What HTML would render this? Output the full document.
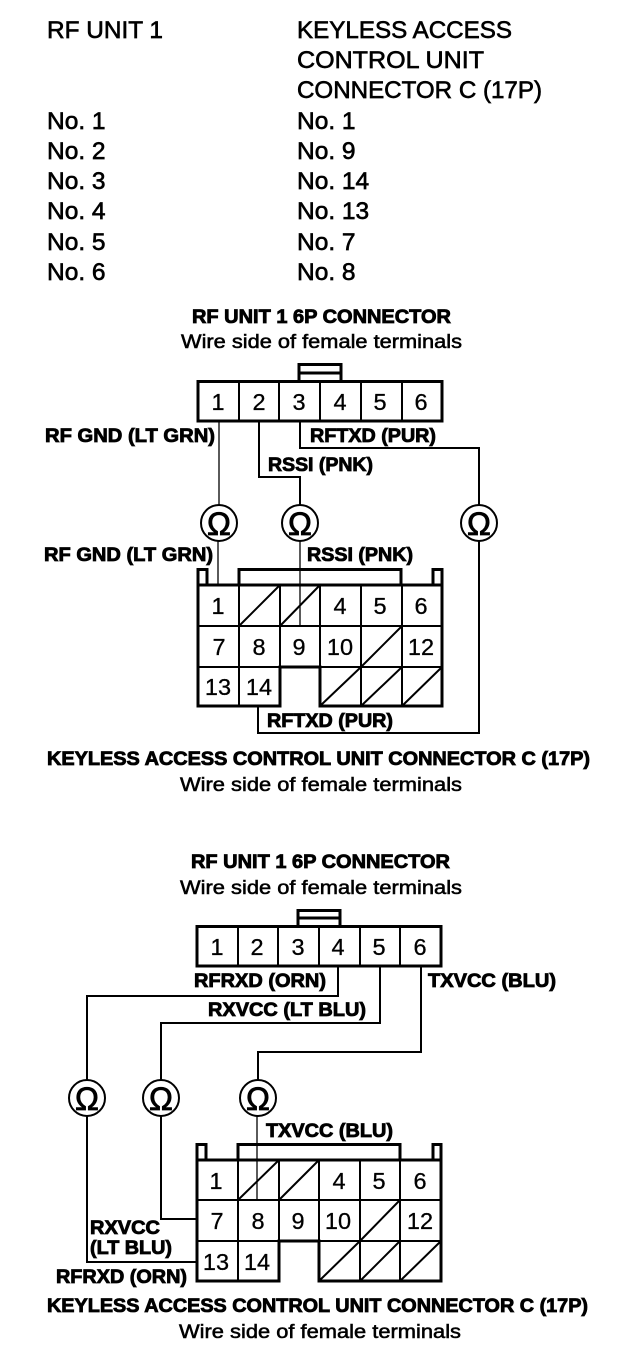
<!DOCTYPE html>
<html><head><meta charset="utf-8"><style>
html,body{margin:0;padding:0;background:#fff}
svg{display:block}
text{font-family:"Liberation Sans",sans-serif;fill:#000}
.h{font-size:24.5px;stroke:#000;stroke-width:.65px}
.b{font-size:19.5px;font-weight:bold;stroke:#000;stroke-width:.85px}
.r{font-size:19.5px;stroke:#000;stroke-width:.55px}
.n{font-size:23.5px;text-anchor:middle;stroke:#000;stroke-width:.3px}
.o{font-size:32px;text-anchor:middle;stroke:#000;stroke-width:.8px}
.l{fill:none;stroke:#000;stroke-width:3}
.m{fill:none;stroke:#000;stroke-width:2}
.t{fill:none;stroke:#000;stroke-width:1.3}
circle{fill:#fff;stroke:#000;stroke-width:2}
</style></head><body>
<svg width="640" height="1362" viewBox="0 0 640 1362" xmlns="http://www.w3.org/2000/svg">
<!-- Header table -->
<text class="h" x="47" y="38" textLength="116" lengthAdjust="spacingAndGlyphs">RF UNIT 1</text>
<text class="h" x="297" y="38" textLength="215" lengthAdjust="spacingAndGlyphs">KEYLESS ACCESS</text>
<text class="h" x="297" y="68" textLength="187" lengthAdjust="spacingAndGlyphs">CONTROL UNIT</text>
<text class="h" x="297" y="98" textLength="245" lengthAdjust="spacingAndGlyphs">CONNECTOR C (17P)</text>
<text class="h" x="47" y="129">No. 1</text><text class="h" x="297" y="129">No. 1</text>
<text class="h" x="47" y="159">No. 2</text><text class="h" x="297" y="159">No. 9</text>
<text class="h" x="47" y="189">No. 3</text><text class="h" x="297" y="189">No. 14</text>
<text class="h" x="47" y="219">No. 4</text><text class="h" x="297" y="219">No. 13</text>
<text class="h" x="47" y="250">No. 5</text><text class="h" x="297" y="250">No. 7</text>
<text class="h" x="47" y="280">No. 6</text><text class="h" x="297" y="280">No. 8</text>

<!-- Diagram 1 -->
<text class="b" x="192" y="323" textLength="259" lengthAdjust="spacingAndGlyphs">RF UNIT 1 6P CONNECTOR</text>
<text class="r" x="181" y="348" textLength="281" lengthAdjust="spacingAndGlyphs">Wire side of female terminals</text>

<path class="l" d="M299 381V364.500H341V381M299 373H341"/>
<path class="l" d="M198 381.500H442V421H198Z"/>
<path class="m" d="M239 381V421M279 381V421M320 381V421M361 381V421M402 381V421"/>
<text class="n" x="218" y="410">1</text><text class="n" x="259" y="410">2</text><text class="n" x="299" y="410">3</text><text class="n" x="340" y="410">4</text><text class="n" x="380" y="410">5</text><text class="n" x="421" y="410">6</text>

<path class="t" d="M219 421V505"/>
<path class="m" d="M259 421V477H300V505"/>
<path class="m" d="M300 421V448H479V505"/>
<path class="t" d="M218 541V585"/>
<path class="t" d="M300 541V626"/>
<path class="m" d="M479 541V733H258V706"/>

<text class="b" x="45" y="442" textLength="170" lengthAdjust="spacingAndGlyphs">RF GND (LT GRN)</text>
<text class="b" x="310" y="442" textLength="126" lengthAdjust="spacingAndGlyphs">RFTXD (PUR)</text>
<text class="b" x="268" y="471" textLength="105" lengthAdjust="spacingAndGlyphs">RSSI (PNK)</text>
<text class="b" x="44" y="561" textLength="169" lengthAdjust="spacingAndGlyphs">RF GND (LT GRN)</text>
<text class="b" x="307" y="561" textLength="106" lengthAdjust="spacingAndGlyphs">RSSI (PNK)</text>
<text class="b" x="267" y="727" textLength="126" lengthAdjust="spacingAndGlyphs">RFTXD (PUR)</text>

<circle cx="219" cy="523" r="18"/><text class="o" x="219" y="535">Ω</text>
<circle cx="300" cy="523" r="18"/><text class="o" x="300" y="535">Ω</text>
<circle cx="479" cy="523" r="18"/><text class="o" x="479" y="535">Ω</text>

<path class="l" d="M198 585V569.500H207V585M239 585V569.500H401V585M433 585V569.500H442V585"/>
<path class="l" d="M198 585H442V706H320V667H280V706H198Z"/>
<path class="m" d="M198 626H442M198 667H280M320 667H442M239 585V706M280 585V667M320 585V667M361 585V706M402 585V706"/>
<path class="m" d="M239 626L280 585M280 626L320 585M361 667L402 626M320 706L361 667M361 706L402 667M402 706L442 667"/>
<text class="n" x="218" y="614">1</text><text class="n" x="340" y="614">4</text><text class="n" x="380" y="614">5</text><text class="n" x="421" y="614">6</text>
<text class="n" x="219" y="655">7</text><text class="n" x="259" y="655">8</text><text class="n" x="299" y="655">9</text><text class="n" x="340" y="655">10</text><text class="n" x="421" y="655">12</text>
<text class="n" x="218" y="695">13</text><text class="n" x="259" y="695">14</text>

<text class="b" x="47" y="765" textLength="543" lengthAdjust="spacingAndGlyphs">KEYLESS ACCESS CONTROL UNIT CONNECTOR C (17P)</text>
<text class="r" x="180" y="791" textLength="282" lengthAdjust="spacingAndGlyphs">Wire side of female terminals</text>

<!-- Diagram 2 -->
<text class="b" x="191" y="868" textLength="259" lengthAdjust="spacingAndGlyphs">RF UNIT 1 6P CONNECTOR</text>
<text class="r" x="180" y="894" textLength="282" lengthAdjust="spacingAndGlyphs">Wire side of female terminals</text>

<path class="l" d="M298 926V910.500H340V926M298 918H340"/>
<path class="l" d="M197 926.500H441V966H197Z"/>
<path class="m" d="M238 926V966M278 926V966M319 926V966M360 926V966M400 926V966"/>
<text class="n" x="217" y="955">1</text><text class="n" x="257" y="955">2</text><text class="n" x="298" y="955">3</text><text class="n" x="338" y="955">4</text><text class="n" x="379" y="955">5</text><text class="n" x="420" y="955">6</text>

<path class="m" d="M338 966V996H87V1080"/>
<path class="m" d="M380 966V1023H161V1080"/>
<path class="m" d="M421 966V1052H258V1080"/>
<path class="m" d="M87 1116V1262H197"/>
<path class="m" d="M161 1116V1219H197"/>
<path class="t" d="M257 1116V1200"/>

<text class="b" x="194" y="987" textLength="132" lengthAdjust="spacingAndGlyphs">RFRXD (ORN)</text>
<text class="b" x="428" y="987" textLength="128" lengthAdjust="spacingAndGlyphs">TXVCC (BLU)</text>
<text class="b" x="208" y="1016" textLength="158" lengthAdjust="spacingAndGlyphs">RXVCC (LT BLU)</text>
<text class="b" x="266" y="1137" textLength="127" lengthAdjust="spacingAndGlyphs">TXVCC (BLU)</text>
<text class="b" x="90" y="1234" textLength="70" lengthAdjust="spacingAndGlyphs">RXVCC</text>
<text class="b" x="90" y="1254" textLength="82" lengthAdjust="spacingAndGlyphs">(LT BLU)</text>
<text class="b" x="56" y="1283" textLength="131" lengthAdjust="spacingAndGlyphs">RFRXD (ORN)</text>

<circle cx="87" cy="1098" r="18"/><text class="o" x="87" y="1110">Ω</text>
<circle cx="161" cy="1098" r="18"/><text class="o" x="161" y="1110">Ω</text>
<circle cx="258" cy="1098" r="18"/><text class="o" x="258" y="1110">Ω</text>

<path class="l" d="M197 1160V1144.500H206V1160M238 1160V1144.500H400V1160M433 1160V1144.500H441V1160"/>
<path class="l" d="M197 1160H441V1281H319V1241H279V1281H197Z"/>
<path class="m" d="M197 1200H441M197 1241H279M319 1241H441M238 1160V1281M279 1160V1241M319 1160V1241M360 1160V1281M400 1160V1281"/>
<path class="m" d="M238 1200L279 1160M279 1200L319 1160M360 1241L400 1200M319 1281L360 1241M360 1281L400 1241M400 1281L441 1241"/>
<text class="n" x="216" y="1189">1</text><text class="n" x="339" y="1189">4</text><text class="n" x="379" y="1189">5</text><text class="n" x="420" y="1189">6</text>
<text class="n" x="217" y="1229">7</text><text class="n" x="258" y="1229">8</text><text class="n" x="298" y="1229">9</text><text class="n" x="338" y="1229">10</text><text class="n" x="420" y="1229">12</text>
<text class="n" x="216" y="1270">13</text><text class="n" x="257" y="1270">14</text>

<text class="b" x="47" y="1312" textLength="541" lengthAdjust="spacingAndGlyphs">KEYLESS ACCESS CONTROL UNIT CONNECTOR C (17P)</text>
<text class="r" x="179" y="1338" textLength="282" lengthAdjust="spacingAndGlyphs">Wire side of female terminals</text>
</svg>
</body></html>
